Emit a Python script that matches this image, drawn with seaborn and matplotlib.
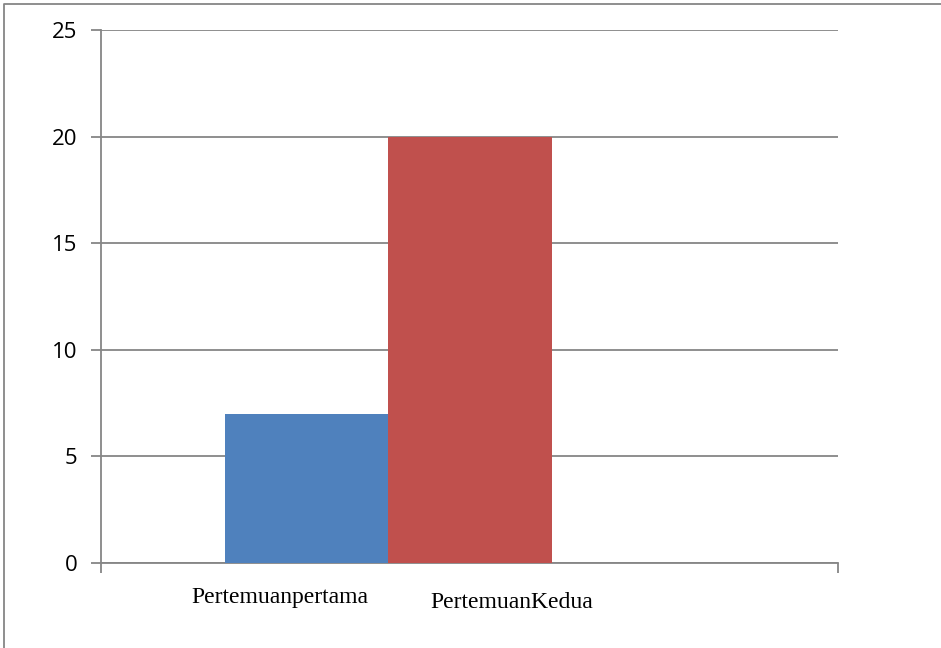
"""
    Bar chart: Pertemuan pertama vs Pertemuan kedua
"""

import pandas as pd
import seaborn as sns
import matplotlib.pyplot as plt
from matplotlib.lines import Line2D
from matplotlib.transforms import blended_transform_factory

# DATA
categories = ["Pertemuanpertama", "PertemuanKedua"]
values = [7, 20]
bar_colors = ["#4F81BD", "#C0504D"]
y_ticks = [0, 5, 10, 15, 20, 25]

grid_color = "#868686"


def plotBars():
    df = pd.DataFrame({"sesi": categories, "nilai": values})

    sns.set_style("white")
    plt.rcParams["font.family"] = ["Open Sans", "DejaVu Sans"]

    fig = plt.figure(figsize=(9.41, 6.48), dpi=100)
    W, H = 941, 648
    ax = fig.add_axes([101 / W, (H - 563) / H, (838 - 101) / W, (563 - 30) / H])

    sns.barplot(data=df, x="sesi", y="nilai", hue="sesi", palette=bar_colors,
                width=1.0, saturation=1, legend=False, ax=ax, zorder=3,
                linewidth=0, edgecolor="none")

    # axis limits so the bars sit where they do in the original
    ax.set_xlim(-1.26, 3.255)
    ax.set_ylim(0, 25)

    # y axis
    ax.set_yticks(y_ticks)
    ax.set_yticklabels([str(t) for t in y_ticks], fontsize=16, color="black")
    ax.yaxis.grid(True, color=grid_color, linewidth=1.3, zorder=0)
    ax.tick_params(axis="y", length=7, width=1.3, color=grid_color, pad=10,
                   direction="out", left=True)

    # x axis: only the end ticks, labels as free text
    ax.set_xticks([-1.26, 3.255])
    ax.set_xticklabels(["", ""])
    ax.tick_params(axis="x", length=7, width=1.3, color=grid_color,
                   direction="out", bottom=True)
    ax.set_xlabel("")
    ax.set_ylabel("")

    for side in ["top", "right"]:
        ax.spines[side].set_visible(False)
    for side in ["left", "bottom"]:
        ax.spines[side].set_color(grid_color)
        ax.spines[side].set_linewidth(1.3)

    # category labels below the axis (baseline in pixels from top)
    label_pos = [(-0.165, 603), (1.255, 608)]
    trans = blended_transform_factory(ax.transData, fig.transFigure)
    for name, (xp, yp) in zip(categories, label_pos):
        ax.text(xp, 1 - yp / H, name, transform=trans, color="black",
                family=["Liberation Serif"], fontsize=17, ha="center", va="baseline")

    # outer chart border (left and top visible)
    fig.add_artist(Line2D([4 / W, 4 / W, 1.0], [0.0, 1 - 4 / H, 1 - 4 / H],
                          transform=fig.transFigure, color=grid_color, linewidth=1.3))

    plt.savefig("out.png", dpi=100)


if __name__ == "__main__":
    plotBars()
